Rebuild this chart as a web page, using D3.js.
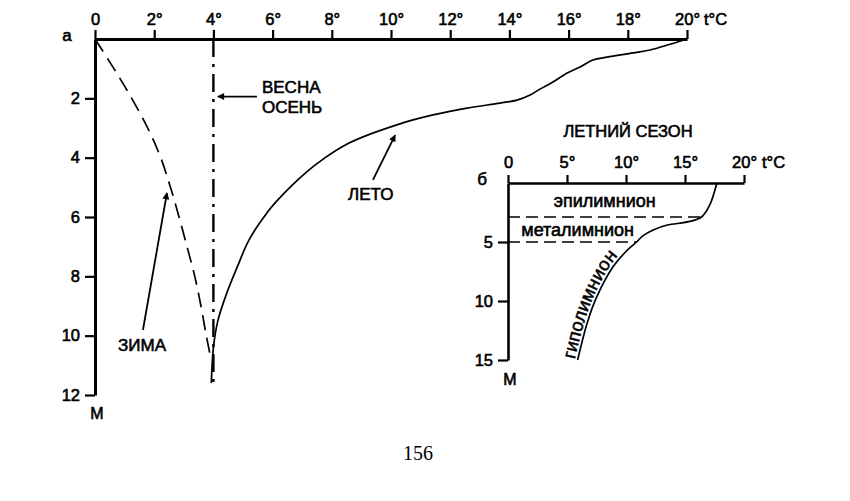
<!DOCTYPE html>
<html><head><meta charset="utf-8">
<script src="https://cdn.jsdelivr.net/npm/d3@7"></script>
<style>body{margin:0;background:#fff}svg{display:block}</style>
</head><body><svg id="c" width="850" height="501"></svg>
<script>
// ---- data ----
const mainTempTicks = [0, 2, 4, 6, 8, 10, 12, 14, 16, 18, 20];
const mainDepthTicks = [2, 4, 6, 8, 10, 12];
const winterTemp  = [0, 0.64, 1.24, 1.78, 2.22, 2.55, 2.84, 3.11, 3.37, 3.58, 3.76, 3.88];
const winterDepth = [0, 1, 2, 3, 4, 5, 6, 7, 8, 9, 10, 10.6];
const springTemp  = [4, 4];
const springDepth = [0, 11.6];
const summerTemp  = [20, 18.75, 18.18, 17.3, 16.82, 16.39, 15.95, 15.47, 15.03, 14.7, 14.26, 13.68, 12.57, 11.42, 10.3, 8.6, 7.5, 6.85, 6.2, 5.8, 5.2, 4.8, 4.45, 4.15, 4.0, 3.93];
const summerDepth = [0, 0.37, 0.47, 0.61, 0.71, 0.94, 1.15, 1.45, 1.69, 1.89, 2.06, 2.16, 2.33, 2.56, 2.86, 3.5, 4.2, 4.75, 5.4, 5.87, 6.78, 7.7, 8.57, 9.5, 10.4, 11.6];

const insetTempTicks = [0, 5, 10, 15, 20];
const insetDepthTicks = [5, 10, 15];
const seasonTemp  = [17.7, 17.1, 16.4, 15.2, 13.5, 12.3, 11.4, 10.9, 10.1, 8.9, 7.5, 6.7, 5.9];
const seasonDepth = [0, 1.86, 2.88, 3.3, 3.56, 3.98, 4.5, 5.0, 5.7, 7.1, 9.7, 11.9, 15.0];
const layerNames  = ["эпилимнион", "металимнион", "гиполимнион"];
const layerBottomDepth = [2.88, 5.0];
const layerBottomTemp  = [16.4, 10.9];

const curveNames = ["ВЕСНА", "ОСЕНЬ", "ЛЕТО", "ЗИМА"];

// ---- drawing ----
const svg = d3.select("#c");
svg.append("rect").attr("width", 850).attr("height", 501).attr("fill", "#fff");
const FONT = "'Liberation Sans', Arial, sans-serif";
const SW = 0.6;

svg.append("defs").append("marker")
  .attr("id", "ah").attr("viewBox", "0 0 10 10").attr("refX", 9).attr("refY", 5)
  .attr("markerUnits", "userSpaceOnUse").attr("markerWidth", 11).attr("markerHeight", 7)
  .attr("orient", "auto")
  .append("path").attr("d", "M0,0L10,5L0,10z").attr("fill", "#000");

// main chart scales
const x = d3.scaleLinear().domain([0, 20]).range([95, 687]);
const y = d3.scaleLinear().domain([0, 12]).range([39, 395]);

function styleAxis(g, w) {
  g.select(".domain").attr("stroke-width", w).attr("stroke", "#000");
  g.selectAll(".tick line").attr("stroke-width", 2.2).attr("stroke", "#000");
  g.selectAll(".tick text").attr("font-family", FONT).attr("font-size", 16.5).attr("fill", "#000")
    .attr("stroke", "#000").attr("stroke-width", SW);
}

const gx = svg.append("g").attr("transform", `translate(0,${y(0)})`)
  .call(d3.axisTop(x).tickValues(mainTempTicks).tickFormat(d => d === 0 ? "0" : d + "°")
    .tickSize(9).tickPadding(5).tickSizeOuter(0));
styleAxis(gx, 3);
const gy = svg.append("g").attr("transform", `translate(${x(0)},0)`)
  .call(d3.axisLeft(y).tickValues(mainDepthTicks).tickSize(10).tickPadding(5).tickSizeOuter(0));
styleAxis(gy, 3);

function txt(px, py, s, size, anchor, fam) {
  return svg.append("text").attr("x", px).attr("y", py).text(s)
    .attr("font-family", fam || FONT).attr("font-size", size).attr("text-anchor", anchor || "start")
    .attr("fill", "#000").attr("stroke", "#000").attr("stroke-width", fam ? 0 : SW);
}
txt(x(0) - 28, y(0) + 2, "а", 17, "middle");
txt(x(0) + 2, y(12) + 24, "М", 16, "middle");
txt(x(20) + 17, y(0) - 14, "t°C", 16.5, "start");

const line = (X, Y) => d3.line().x(d => X(d[0])).y(d => Y(d[1])).curve(d3.curveCatmullRom);

svg.append("path").datum(d3.zip(winterTemp, winterDepth))
  .attr("d", line(x, y)).attr("fill", "none").attr("stroke", "#000")
  .attr("stroke-width", 1.7).attr("stroke-dasharray", "15,8");
svg.append("path").datum(d3.zip(springTemp, springDepth))
  .attr("d", d3.line().x(d => x(d[0])).y(d => y(d[1]))).attr("fill", "none").attr("stroke", "#000")
  .attr("stroke-width", 2.4).attr("stroke-dasharray", "18,7,3,7");
svg.append("path").datum(d3.zip(summerTemp, summerDepth))
  .attr("d", line(x, y)).attr("fill", "none").attr("stroke", "#000")
  .attr("stroke-width", 1.7);

function arrow(t1, d1, t2, d2) {
  svg.append("line").attr("x1", x(t1)).attr("y1", y(d1)).attr("x2", x(t2)).attr("y2", y(d2))
    .attr("stroke", "#000").attr("stroke-width", 1.8).attr("marker-end", "url(#ah)");
}
arrow(5.47, 1.94, 4.15, 1.94);
arrow(9.39, 4.75, 10.14, 3.24);
arrow(1.62, 9.81, 2.43, 5.19);

txt(x(5.64), y(1.82), curveNames[0], 17);
txt(x(5.64), y(2.49), curveNames[1], 17);
txt(x(8.55), y(5.43), curveNames[2], 17);
txt(x(0.78), y(10.52), curveNames[3], 17);

// inset
const ix = d3.scaleLinear().domain([0, 20]).range([508, 744]);
const iy = d3.scaleLinear().domain([0, 15]).range([183, 360]);

txt(628, 137, "ЛЕТНИЙ СЕЗОН", 16.5, "middle");
const igx = svg.append("g").attr("transform", `translate(0,${iy(0)})`)
  .call(d3.axisTop(ix).tickValues(insetTempTicks).tickFormat(d => d === 0 ? "0" : d + "°")
    .tickSize(8).tickPadding(7).tickSizeOuter(0));
styleAxis(igx, 2.6);
const igy = svg.append("g").attr("transform", `translate(${ix(0)},0)`)
  .call(d3.axisLeft(iy).tickValues(insetDepthTicks).tickSize(10).tickPadding(5).tickSizeOuter(0));
styleAxis(igy, 2.6);
txt(ix(0) - 26, iy(0) + 2, "б", 17, "middle");
txt(ix(0) + 2, iy(15) + 25, "М", 16, "middle");
txt(ix(20) + 18, iy(0) - 15, "t°C", 16.5, "start");

layerBottomDepth.forEach((d, i) => {
  svg.append("line").attr("x1", ix(0)).attr("x2", ix(layerBottomTemp[i])).attr("y1", iy(d)).attr("y2", iy(d))
    .attr("stroke", "#000").attr("stroke-width", 1.7).attr("stroke-dasharray", "12,6");
});
const seasonPts = d3.zip(seasonTemp, seasonDepth);
svg.append("path").datum(seasonPts).attr("d", line(ix, iy))
  .attr("fill", "none").attr("stroke", "#000").attr("stroke-width", 1.7);

txt(ix(8.2), iy(2.05), layerNames[0], 18, "middle");
txt(ix(5.9), iy(4.5), layerNames[1], 18, "middle");

// hypolimnion label along curve (from deep to shallow)
const hypoPts = seasonPts.filter(p => p[1] >= 5).reverse();
svg.append("path").attr("id", "hypo").datum(hypoPts).attr("d", line(ix, iy)).attr("fill", "none");
svg.append("text").attr("font-family", FONT).attr("font-size", 18.5).attr("fill", "#000")
  .attr("stroke", "#000").attr("stroke-width", 0.5).attr("dy", -3)
  .append("textPath").attr("href", "#hypo").attr("startOffset", 0).text(layerNames[2]);

// page number
txt(418, 460, "156", 20, "middle", "'Liberation Serif', 'Times New Roman', serif");
</script>
</body></html>
